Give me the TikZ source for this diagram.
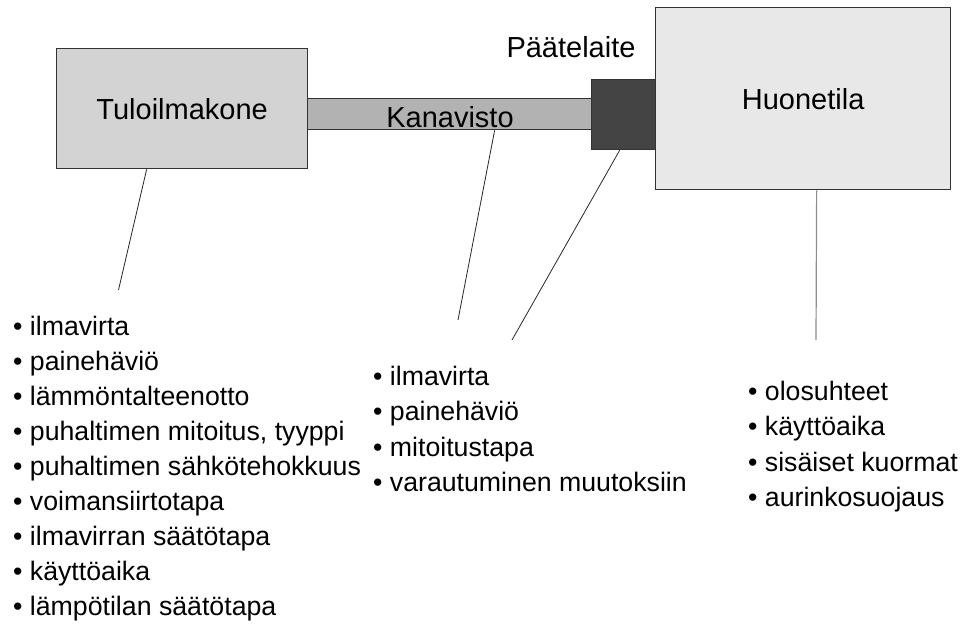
\documentclass[tikz,border=0pt]{standalone}
\usepackage{fontspec}
\setmainfont{Liberation Sans}
\definecolor{reuna}{HTML}{333333}
\definecolor{konevari}{HTML}{D3D3D3}
\definecolor{kanavavari}{HTML}{B2B2B2}
\definecolor{paatevari}{HTML}{444444}
\definecolor{huonevari}{HTML}{E8E8E8}
\begin{document}
\begin{tikzpicture}[x=1pt,y=-1pt,
  laatikko/.style={draw=reuna,line width=1.3pt,inner sep=0pt,anchor=north west},
  otsikko/.style={font=\fontsize{29}{35}\selectfont},
  lista/.style={anchor=base west,inner sep=0pt,font=\fontsize{26.7}{35}\selectfont},
  viiva/.style={line width=0.8pt,draw=black!85}]
\useasboundingbox (0,0) rectangle (967,630);
% laitteet
\node[laatikko,fill=kanavavari,minimum width=284pt,minimum height=31pt] (kanava) at (307,98) {};
\node[laatikko,fill=konevari,minimum width=251pt,minimum height=120pt,otsikko] (tulo) at (56,48) {Tuloilmakone};
\node[laatikko,fill=huonevari,minimum width=295pt,minimum height=182pt,otsikko] (huone) at (655,7) {Huonetila};
\node[laatikko,fill=paatevari,minimum width=64pt,minimum height=70pt] (paate) at (591,79) {};
\node[otsikko,anchor=base,inner sep=0pt] (kanavateksti) at (450,127) {Kanavisto};
\node[otsikko,anchor=base,inner sep=0pt] (paateteksti) at (571,57) {Päätelaite};
% viivat listoille
\coordinate (tv) at (118.5,290);
\coordinate (kv) at (458,320);
\coordinate (pv) at (512,340);
\coordinate (hv) at (816,340);
\draw[viiva] ([xshift=-35.5pt]tulo.south) -- (tv);
\draw[viiva] ([xshift=45pt]kanava.south) -- (kv);
\draw[viiva] ([xshift=-4pt]paate.south) -- (pv);
\draw[viiva,line width=1.2pt,draw=black!45] ([xshift=13.5pt]huone.south) -- (hv);
% listat
\foreach \t [count=\i from 0] in {ilmavirta,painehäviö,lämmöntalteenotto,{puhaltimen mitoitus, tyyppi},puhaltimen sähkötehokkuus,voimansiirtotapa,ilmavirran säätötapa,käyttöaika,lämpötilan säätötapa}
  \node[lista] (tl\i) at (13,335+35*\i) {• \t};
\foreach \t [count=\i from 0] in {ilmavirta,painehäviö,mitoitustapa,varautuminen muutoksiin}
  \node[lista] (kl\i) at (373,385+35.5*\i) {• \t};
\foreach \t [count=\i from 0] in {olosuhteet,käyttöaika,sisäiset kuormat,aurinkosuojaus}
  \node[lista] (hl\i) at (748,400+35.5*\i) {• \t};
\end{tikzpicture}
\end{document}
